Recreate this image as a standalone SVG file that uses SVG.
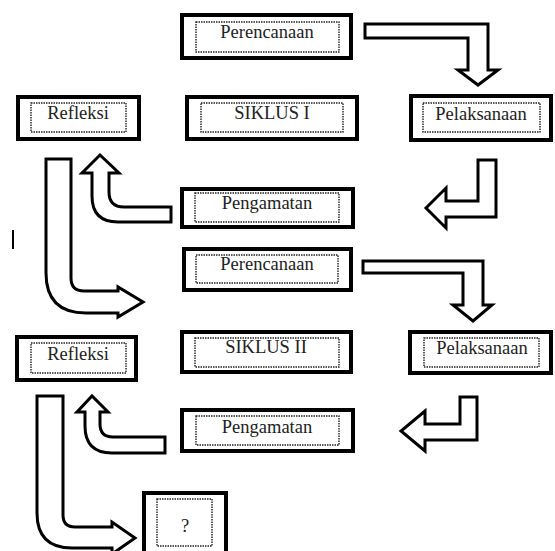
<svg xmlns="http://www.w3.org/2000/svg" width="555" height="551" viewBox="0 0 555 551">
<style>
.box{fill:#fff;stroke:#000;stroke-width:4}
.inner{fill:none;stroke:#222;stroke-width:1.4;stroke-dasharray:1.5 1}
.lbl{font-family:"Liberation Serif","Times New Roman","DejaVu Serif",serif;font-size:18.5px;fill:#222;text-anchor:middle}
.arr{fill:#fff;stroke:#000;stroke-width:3;stroke-linejoin:miter}
</style>
<rect width="555" height="551" fill="#fff"/>
<g id="connectors">
<path class="arr" d="M365,24 L488,24 L488,70 L498,70 L478,85 L458,70 L468,70 L468,38 L365,38 Z"/>
<path class="arr" d="M478,160 L496,160 L496,217 L446,217 L446,228 L426,208 L446,188 L446,201 L478,201 Z"/>
<path class="arr" d="M171,207 L124,207 Q109,207 109,192 L109,173 L119,173 L100,155 L82,173 L92,173 L92,196 Q92,222 118,222 L171,222 Z"/>
<path class="arr" d="M46,159 L71,159 L71,278 Q71,291 84,291 L118,291 L118,287 L143,302 L118,317 L118,313 L86,313 Q46,313 46,273 Z"/>
<path class="arr" d="M363,261 L483,261 L483,305 L492,305 L473,321 L453,305 L463,305 L463,273 L363,273 Z"/>
<path class="arr" d="M460,397 L477,397 L477,440 L425,440 L425,451 L401,431 L425,411 L425,424 L460,424 Z"/>
<path class="arr" d="M165,437 L113,437 Q100,437 100,424 L100,412 L108,412 L92,396 L77,412 L85,412 L85,426 Q85,453 112,453 L165,453 Z"/>
<path class="arr" d="M37,396 L63,396 L63,515 Q63,527 75,527 L112,527 L112,522 L135,538 L112,554 L112,548 L72,548 Q37,548 37,513 Z"/>
<line x1="13" y1="230" x2="13" y2="249" stroke="#000" stroke-width="2"/>
</g>
<g id="perencanaan1">
<rect class="box" x="182" y="15" width="169" height="43"/>
<rect class="inner" x="196" y="22" width="143" height="30"/>
<text class="lbl" x="267" y="38">Perencanaan</text>
</g>
<g id="siklus1">
<rect class="box" x="187" y="97" width="170" height="42"/>
<rect class="inner" x="201" y="103" width="142" height="29"/>
<text class="lbl" x="272" y="119">SIKLUS I</text>
</g>
<g id="refleksi1">
<rect class="box" x="18" y="97" width="121" height="42"/>
<rect class="inner" x="31" y="103" width="95" height="29"/>
<text class="lbl" x="78" y="119">Refleksi</text>
</g>
<g id="pelaksanaan1">
<rect class="box" x="411" y="96" width="140" height="44"/>
<rect class="inner" x="423" y="103" width="117" height="29"/>
<text class="lbl" x="481" y="120">Pelaksanaan</text>
</g>
<g id="pengamatan1">
<rect class="box" x="182" y="189" width="171" height="38"/>
<rect class="inner" x="195" y="193" width="144" height="29"/>
<text class="lbl" x="267" y="209">Pengamatan</text>
</g>
<g id="perencanaan2">
<rect class="box" x="184" y="249" width="167" height="41"/>
<rect class="inner" x="196" y="255" width="142" height="28"/>
<text class="lbl" x="267" y="270">Perencanaan</text>
</g>
<g id="siklus2">
<rect class="box" x="182" y="332" width="169" height="40"/>
<rect class="inner" x="195" y="338" width="144" height="29"/>
<text class="lbl" x="266" y="353">SIKLUS II</text>
</g>
<g id="refleksi2">
<rect class="box" x="17" y="337" width="119" height="43"/>
<rect class="inner" x="31" y="343" width="95" height="30"/>
<text class="lbl" x="78" y="360">Refleksi</text>
</g>
<g id="pelaksanaan2">
<rect class="box" x="410" y="332" width="141" height="41"/>
<rect class="inner" x="424" y="338" width="115" height="29"/>
<text class="lbl" x="482" y="354">Pelaksanaan</text>
</g>
<g id="pengamatan2">
<rect class="box" x="182" y="410" width="171" height="41"/>
<rect class="inner" x="196" y="416" width="143" height="29"/>
<text class="lbl" x="267" y="433">Pengamatan</text>
</g>
<g id="question">
<rect class="box" x="144" y="493" width="82" height="70"/>
<rect class="inner" x="157" y="499" width="55" height="47"/>
<text class="lbl" x="185" y="532">?</text>
</g>
</svg>
